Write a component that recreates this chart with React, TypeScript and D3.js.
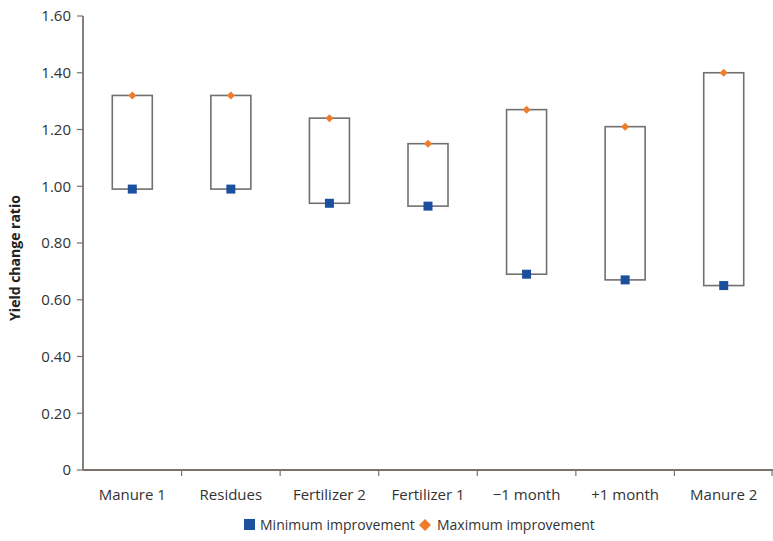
import React from "react";
import * as d3 from "d3";

const categories = ["Manure 1", "Residues", "Fertilizer 2", "Fertilizer 1", "\u22121 month", "+1 month", "Manure 2"];
const minValues = [0.99, 0.99, 0.94, 0.93, 0.69, 0.67, 0.65];
const maxValues = [1.32, 1.32, 1.24, 1.15, 1.27, 1.21, 1.40];
const yTicks = [0, 0.2, 0.4, 0.6, 0.8, 1.0, 1.2, 1.4, 1.6];

const W = 773, H = 541;
const left = 83, right = 773, top = 16, bottom = 470;
const axisColor = "#7b716d";
const boxColor = "#707070";
const blue = "#1d4f9f";
const orange = "#ef7b2b";
const font = "'Open Sans', 'Noto Sans', sans-serif";

export default function App() {
  const x = d3.scaleBand<string>().domain(categories).range([left, right]);
  const y = d3.scaleLinear().domain([0, 1.6]).range([bottom, top]);
  const boxW = 40;
  const fmt = (v: number) => (v === 0 ? "0" : d3.format(".2f")(v));
  return (
    <svg width={W} height={H} style={{ position: "absolute", left: 0, top: 0, background: "#fff" }}>
      {categories.map((c, i) => {
        const cx = (x(c) as number) + x.bandwidth() / 2;
        const yMax = y(maxValues[i]);
        const yMin = y(minValues[i]);
        return (
          <g key={c}>
            <rect x={cx - boxW / 2} y={yMax} width={boxW} height={yMin - yMax}
              fill="none" stroke={boxColor} strokeWidth={1.6} />
            <rect x={cx - 4.5} y={yMin - 4.5} width={9} height={9} fill={blue} />
            <path d={`M${cx},${yMax - 4} L${cx + 4},${yMax} L${cx},${yMax + 4} L${cx - 4},${yMax} Z`} fill={orange} />
          </g>
        );
      })}
      <line x1={left} x2={left} y1={top} y2={bottom} stroke={axisColor} strokeWidth={1.8} />
      {yTicks.map((t) => (
        <g key={t}>
          <line x1={left - 6} x2={left} y1={y(t)} y2={y(t)} stroke={axisColor} strokeWidth={1.2} />
          <text x={left - 12} y={y(t)} dy="0.35em" textAnchor="end" fontFamily={font} fontSize={15} fill="#333">{fmt(t)}</text>
        </g>
      ))}
      <line x1={left} x2={right} y1={bottom} y2={bottom} stroke={axisColor} strokeWidth={1.8} />
      {categories.map((c, i) => (
        <g key={"t" + c}>
          {i > 0 && <line x1={x(c)} x2={x(c)} y1={bottom} y2={bottom + 6} stroke={axisColor} strokeWidth={1.2} />}
          <text x={(x(c) as number) + x.bandwidth() / 2} y={bottom + 30} textAnchor="middle" fontFamily={font} fontSize={15} fill="#333">{c}</text>
        </g>
      ))}
      <line x1={right - 1} x2={right - 1} y1={bottom} y2={bottom + 6} stroke={axisColor} strokeWidth={1.2} />
      <text transform={`translate(20,258) rotate(-90)`} textAnchor="middle" fontFamily={font} fontSize={14} fontWeight="bold" fill="#222">Yield change ratio</text>
      <rect x={244} y={519} width={11} height={11} fill={blue} />
      <text x={260} y={525} dy="0.35em" fontFamily={font} fontSize={14} fill="#333">Minimum improvement</text>
      <path d="M425,519 L431,525 L425,531 L419,525 Z" fill={orange} />
      <text x={437} y={525} dy="0.35em" fontFamily={font} fontSize={14} fill="#333">Maximum improvement</text>
    </svg>
  );
}
